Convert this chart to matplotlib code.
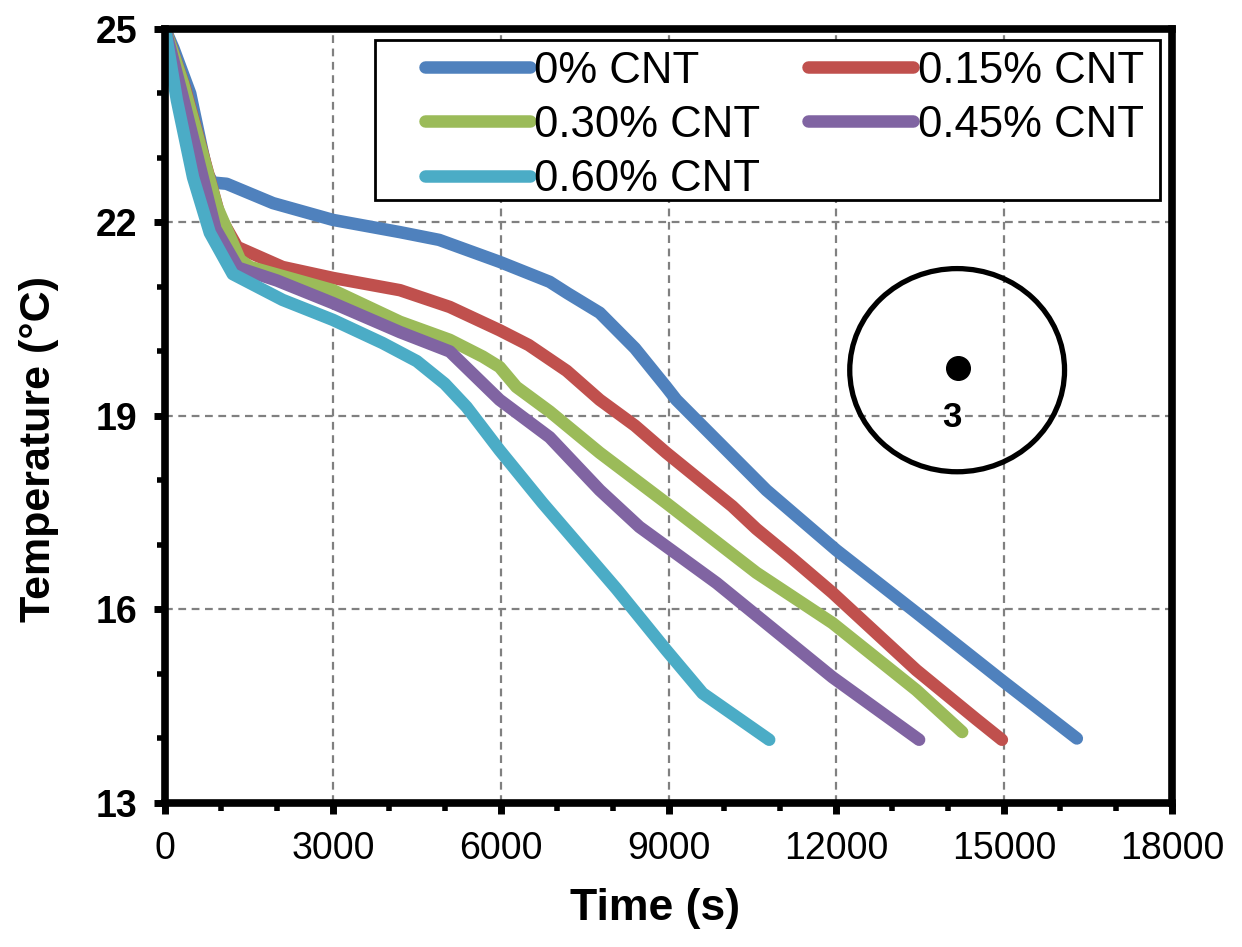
import matplotlib.pyplot as plt
from matplotlib.patches import Ellipse, Rectangle
from matplotlib.ticker import MultipleLocator

plt.rcParams['font.family'] = ['Liberation Sans', 'DejaVu Sans']

# cooling curves at point 3, time in s, temperature in deg C
t_0 = [0, 150, 450, 750, 850, 1100, 1930, 3000, 4200, 4900, 5980, 6875, 7200, 7770, 8400, 8960, 9140,
       10750, 12000, 13430, 14960, 16300]
T_0 = [25, 24.7, 24.0, 22.77, 22.62, 22.6, 22.3, 22.04, 21.85, 21.73, 21.39, 21.08, 20.9, 20.6, 20.05, 19.45, 19.25,
       17.85, 16.92, 15.95, 14.9, 14.0]

t_15 = [0, 350, 980, 1290, 2100, 3000, 4200, 5090, 5980, 6500, 7180, 7770, 8400, 8960, 9500, 10140, 10570,
        11200, 11930, 13430, 14500, 14960]
T_15 = [25, 24.1, 22.09, 21.62, 21.31, 21.14, 20.95, 20.69, 20.33, 20.1, 19.7, 19.25, 18.85, 18.43, 18.05, 17.6, 17.25,
        16.8, 16.26, 15.06, 14.3, 13.98]

t_30 = [0, 320, 930, 1340, 1520, 3000, 4200, 5090, 5680, 5980, 6280, 6875, 7770, 8960, 10570, 11930,
        13430, 14250]
T_30 = [25, 24.16, 22.24, 21.42, 21.31, 20.95, 20.46, 20.18, 19.92, 19.76, 19.45, 19.07, 18.43, 17.65, 16.57, 15.79,
        14.75, 14.1]

t_45 = [0, 300, 900, 1300, 2000, 3000, 4200, 5090, 5980, 6875, 7770, 8480, 9860, 11930, 13480]
T_45 = [25, 24.0, 21.9, 21.3, 21.1, 20.75, 20.3, 20.0, 19.25, 18.67, 17.85, 17.28, 16.41, 14.95, 13.98]

t_60 = [0, 210, 500, 800, 1210, 2100, 3000, 3890, 4500, 5000, 5390, 5980, 6750, 8070, 8960, 9610, 10800]
T_60 = [25, 23.9, 22.7, 21.84, 21.2, 20.8, 20.49, 20.13, 19.85, 19.5, 19.14, 18.47, 17.65, 16.32, 15.37, 14.7, 13.98]

labels = ['0% CNT', '0.15% CNT', '0.30% CNT', '0.45% CNT', '0.60% CNT']
colors = ['#4F81BD', '#C0504D', '#9BBB59', '#8064A2', '#4BACC6']
y_ticks = [13, 16, 19, 22, 25]

fig = plt.figure(figsize=(12.42, 9.47), dpi=100)
ax = fig.add_axes([0.1329, 0.1521, 0.8107, 0.8173])

lines = []
for t, T, lab, c in zip([t_0, t_15, t_30, t_45, t_60], [T_0, T_15, T_30, T_45, T_60], labels, colors):
    l, = ax.plot(t, T, color=c, lw=9, label=lab, solid_capstyle='round', solid_joinstyle='round')
    lines.append(l)

ax.set_xlim(0, 18000)
ax.set_ylim(13, 25)
ax.xaxis.set_major_locator(MultipleLocator(3000))
ax.xaxis.set_minor_locator(MultipleLocator(1000))
ax.set_yticks(y_ticks)
ax.yaxis.set_minor_locator(MultipleLocator(1))
ax.grid(True, which='major', color='#808080', linestyle=(0, (3.5, 2.5)), lw=1.6)

for s in ax.spines.values():
    s.set_linewidth(5.5)
ax.tick_params(which='major', direction='out', length=8, width=5)
ax.tick_params(which='minor', direction='out', length=6, width=4)
ax.tick_params(axis='x', labelsize=27, pad=12)
ax.tick_params(axis='y', labelsize=27, pad=12)
for lab in ax.get_yticklabels():
    lab.set_fontweight('bold')

ax.set_xlabel('Time (s)', fontsize=32, fontweight='bold')
ax.set_ylabel('Temperature (°C)', fontsize=31, fontweight='bold')
ax.xaxis.set_label_coords(0.487, -0.11)
ax.yaxis.set_label_coords(-0.105, 0.457)

# cross-section sketch with the measuring point
ax.add_patch(Ellipse((14160, 19.71), 3840, 3.15, fill=False, ec='black', lw=3.8, zorder=5))
ax.plot([14180], [19.75], 'o', color='black', ms=17, zorder=6)
ax.text(14070, 18.98, '3', fontsize=25, fontweight='bold', ha='center', va='center', zorder=6)

# legend box drawn by hand so the padding can differ on each side
ax.add_patch(Rectangle((0.2085, 0.779), 0.7795, 0.207, transform=ax.transAxes,
                       fc='white', ec='black', lw=2, zorder=4.5))
order = [0, 2, 4, 1, 3]
leg = ax.legend([lines[i] for i in order], [labels[i] for i in order], ncol=2,
                loc='upper right', bbox_to_anchor=(0.972, 0.972), borderaxespad=0, borderpad=0,
                fontsize=31.5, handlelength=2.4, handletextpad=0.1, columnspacing=1.1,
                labelspacing=0.3, frameon=False)
leg.set_zorder(5)

fig.savefig('out.png', dpi=100)
